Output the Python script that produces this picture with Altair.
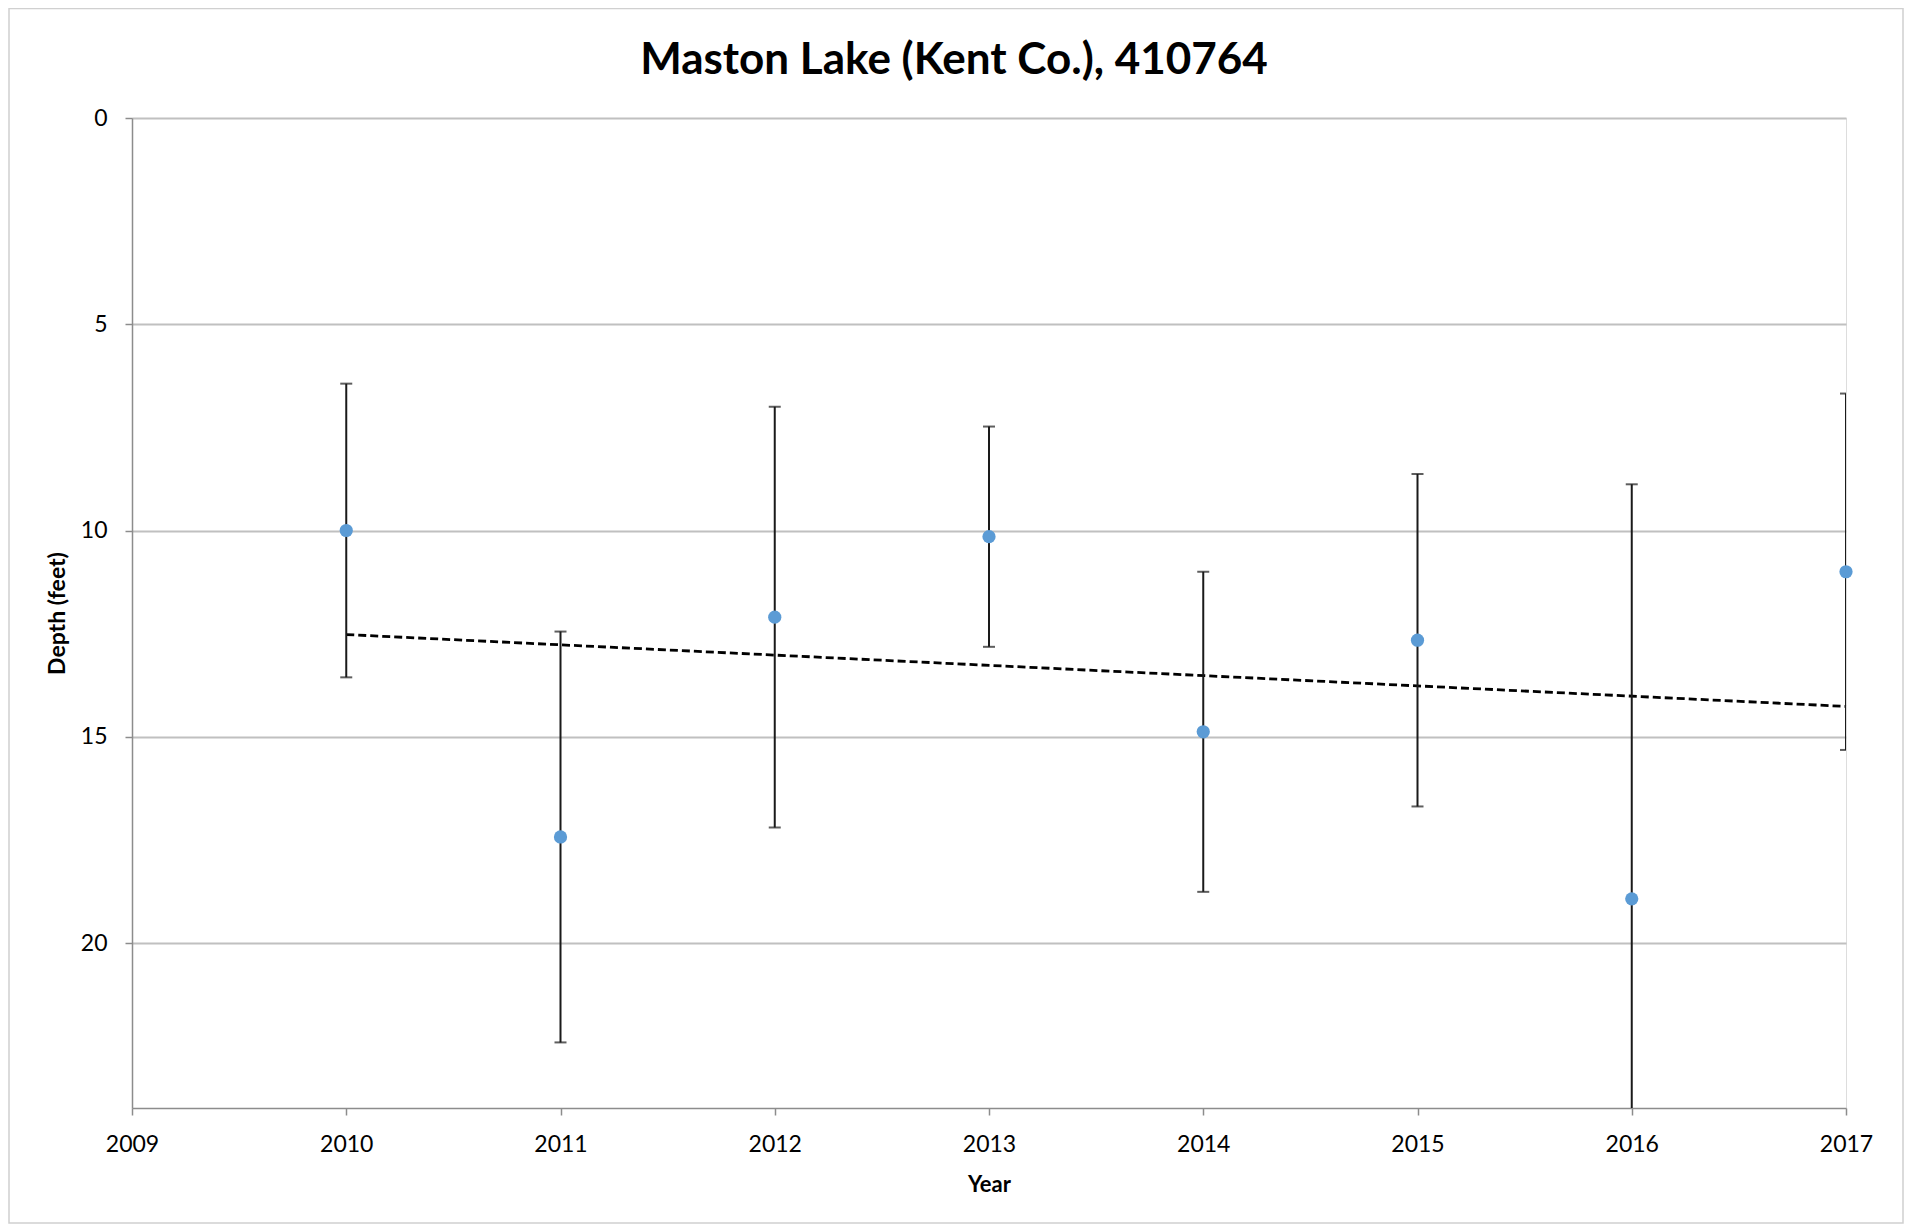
import altair as alt
import pandas as pd

# ---- data ----
years = [2010, 2011, 2012, 2013, 2014, 2015, 2016, 2017]
depth = [10.0, 17.43, 12.1, 10.15, 14.88, 12.66, 18.93, 11.0]
err = [3.56, 4.98, 5.1, 2.67, 3.88, 4.03, 10.05, 4.32]

x_ticks = [2009, 2010, 2011, 2012, 2013, 2014, 2015, 2016, 2017]
y_ticks = [0, 5, 10, 15, 20]

title_text = "Maston Lake (Kent Co.), 410764"
x_title = "Year"
y_title = "Depth (feet)"

df = pd.DataFrame({"year": years, "depth": depth, "err": err})
df["lower"] = df["depth"] - df["err"]
df["upper"] = df["depth"] + df["err"]

FONT = "Lato"
W, H = 1714, 990

x_enc = alt.X(
    "year:Q",
    scale=alt.Scale(domain=[2009, 2017], nice=False, zero=False),
    axis=alt.Axis(
        values=x_ticks, format="d", grid=False, title=x_title, labelFlush=False,
        titleFont=FONT, titleFontSize=22, titleFontWeight="bold", titleColor="#000000",
        titleBaseline="alphabetic", titleY=83,
        labelFont=FONT, labelFontSize=23, labelColor="#000000",
        labelBaseline="alphabetic", labelPadding=36,
        tickSize=7, tickColor="#8c8c8c", tickWidth=1.5,
        domainColor="#8c8c8c", domainWidth=1.5,
    ),
)

y_scale = alt.Scale(domain=[0, 24], reverse=True, nice=False, zero=False)
y_axis = alt.Axis(
    values=y_ticks, grid=True, gridColor="#c0c0c0", gridWidth=2, title=y_title,
    labelFlush=False,
    titleFont=FONT, titleFontSize=23, titleFontWeight="bold", titleColor="#000000",
    titleAngle=-90, titleBaseline="middle", titleAlign="center", titleX=-75, titleY=H / 2,
    labelFont=FONT, labelFontSize=23, labelColor="#000000", labelPadding=18,
    tickSize=7, tickColor="#8c8c8c", tickWidth=1.5,
    domainColor="#8c8c8c", domainWidth=1.5,
)

base = alt.Chart(df)

trend = base.transform_regression("year", "depth").mark_line(
    color="#000000", strokeDash=[8, 4], strokeWidth=2.8
).encode(x=x_enc, y=alt.Y("depth:Q", scale=y_scale, axis=y_axis))

bars = base.mark_rule(color="#1a1a1a", strokeWidth=2, clip=True).encode(
    x="year:Q", y=alt.Y("lower:Q", scale=y_scale), y2="upper:Q"
)

cap_lo = base.mark_tick(color="#1a1a1a", orient="horizontal", size=12, thickness=2, clip=True).encode(
    x="year:Q", y=alt.Y("lower:Q", scale=y_scale)
)
cap_hi = base.mark_tick(color="#1a1a1a", orient="horizontal", size=12, thickness=2, clip=True).encode(
    x="year:Q", y=alt.Y("upper:Q", scale=y_scale)
)

points = base.mark_point(filled=True, color="#5b9bd5", size=175, opacity=1).encode(
    x="year:Q", y=alt.Y("depth:Q", scale=y_scale)
)

# chart-area frame (decoration)
frame = alt.Chart(alt.Data(values=[{"a": 1}])).mark_rect(
    fill=None, stroke="#d0d0d0", strokeWidth=1.5, clip=False
).encode(
    x=alt.value(-123), x2=alt.value(1771), y=alt.value(-109.5), y2=alt.value(1105)
)

chart = alt.layer(trend, bars, cap_lo, cap_hi, points, frame).properties(
    width=W,
    height=H,
    title=alt.TitleParams(
        text=title_text, font=FONT, fontSize=44, fontWeight="bold", color="#000000",
        anchor="middle", frame="group", baseline="alphabetic", offset=-110, dx=-35,
    ),
    autosize=alt.AutoSizeParams(type="none"),
    padding={"left": 124, "top": 110, "right": 60, "bottom": 118},
).configure_view(strokeWidth=0).configure(background="#ffffff")

chart.save("out.html", embed_options={"renderer": "svg", "actions": False})
